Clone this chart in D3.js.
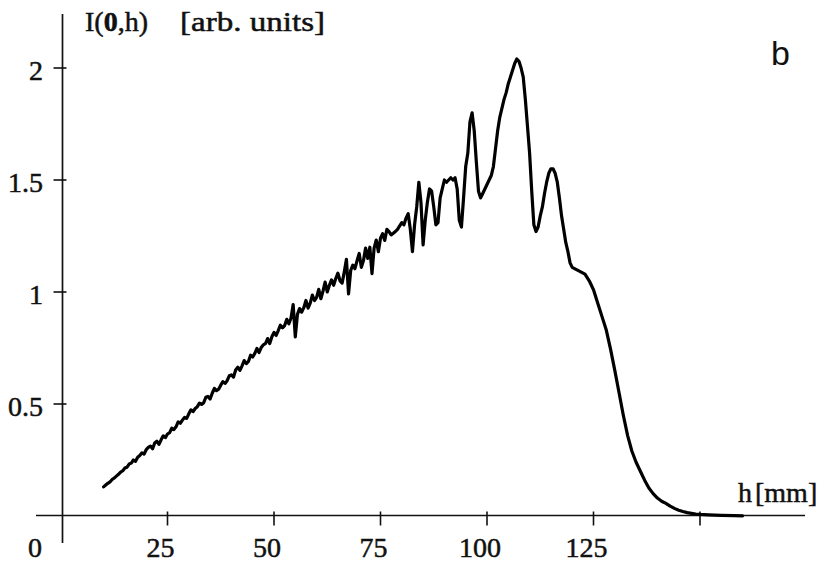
<!DOCTYPE html>
<html>
<head>
<meta charset="utf-8">
<script src="https://cdn.jsdelivr.net/npm/d3@7/dist/d3.min.js"></script>
<style>
  body { margin: 0; background: #fff; }
  svg { display: block; }
</style>
</head>
<body>
<script>
// h in mm
const heights = [
  10,10.5,11,11.5,12,12.5,13,13.5,14,14.5,
  15,15.5,16,16.5,17,17.5,18,18.5,19,19.5,
  20,20.5,21,21.5,22,22.5,23,23.5,24,24.5,
  25,25.5,26,26.5,27,27.5,28,28.5,29,29.5,
  30,30.5,31,31.5,32,32.5,33,33.5,34,34.5,
  35,35.5,36,36.5,37,37.5,38,38.5,39,39.5,
  40,40.5,41,41.5,42,42.5,43,43.5,44,44.5,
  45,45.5,46,46.5,47,47.5,48,48.5,49,49.5,
  50,50.5,51,51.5,52,52.5,53,53.5,54,54.5,
  55,55.5,56,56.5,57,57.5,58,58.5,59,59.5,
  60,60.5,61,61.5,62,62.5,63,63.5,64,64.5,
  65,65.5,66,66.5,67,67.5,68,68.5,69,69.5,
  70,70.5,71,71.5,72,72.5,73,73.5,74,74.5,
  75,75.5,76,76.5,77,77.5,78,78.5,79,79.5,
  80,80.5,81,81.5,82,82.5,83,83.5,84,84.5,
  85,85.5,86,86.5,87,87.5,88,88.5,89,89.5,
  90,90.5,91,91.5,92,92.5,93,93.5,94,94.5,
  95,95.5,96,96.5,97,97.5,98,98.5,99,99.5,
  100,100.5,101,101.5,102,102.5,103,103.5,104,104.5,
  105,105.5,106,106.5,107,107.5,108,108.5,109,109.5,
  110,110.5,111,111.5,112,112.5,113,113.5,114,114.5,
  115,115.5,116,116.5,117,117.5,118,118.5,119,119.5,
  120,
  121,122,123,124,125,126,127,128,129,130,
  131,132,133,134,135,136,137,138,139,140,
  141,142,143,144,145,146,147,148,149,150,
  152,155,158,160
];

// I(0,h) in arb. units
const intensity = [
  .130,.138,.146,.152,.163,.170,.178,.186,.196,.202,
  .214,.218,.232,.236,.250,.244,.262,.270,.282,.276,
  .296,.306,.312,.300,.326,.334,.320,.340,.358,.350,
  .366,.372,.392,.386,.398,.420,.414,.428,.440,.436,
  .456,.474,.466,.480,.488,.504,.498,.506,.530,.534,
  .522,.548,.570,.560,.566,.584,.600,.592,.604,.626,
  .630,.620,.652,.664,.650,.670,.694,.680,.690,.718,
  .710,.726,.748,.730,.752,.764,.770,.792,.770,.800,
  .820,.806,.828,.852,.840,.850,.878,.858,.884,.944,
  .800,.900,.926,.910,.930,.962,.928,.950,.986,.962,
  .976,1.012,.970,1.004,1.044,1.000,1.030,1.054,1.030,1.060,
  1.084,1.050,1.040,1.090,1.146,.992,1.096,1.120,1.104,1.140,
  1.172,1.110,1.140,1.196,1.150,1.200,1.082,1.196,1.232,1.180,
  1.240,1.260,1.230,1.280,1.270,1.255,1.262,1.270,1.280,1.295,
  1.310,1.300,1.330,1.350,1.280,1.180,1.300,1.380,1.490,1.400,
  1.210,1.320,1.400,1.460,1.450,1.380,1.300,1.310,1.420,1.460,
  1.500,1.490,1.500,1.510,1.500,1.510,1.460,1.320,1.290,1.420,
  1.560,1.620,1.760,1.800,1.720,1.580,1.450,1.420,1.440,1.460,
  1.480,1.500,1.520,1.560,1.640,1.720,1.780,1.820,1.860,1.890,
  1.930,1.960,1.990,2.020,2.040,2.030,2.000,1.960,1.860,1.740,
  1.620,1.450,1.300,1.270,1.290,1.340,1.380,1.440,1.490,1.530,
  1.550,1.550,1.530,1.490,1.420,1.340,1.280,1.220,1.180,1.130,
  1.110,
  1.100,1.090,1.080,1.050,1.010,0.950,0.890,0.830,0.745,0.650,
  0.550,0.450,0.360,0.290,0.240,0.200,0.160,0.125,0.100,0.080,
  0.066,0.056,0.044,0.034,0.026,0.020,0.015,0.012,0.009,0.007,
  0.005,0.003,0.002,0.001
];

const xTicks = [25, 50, 75, 100, 125, 150];
const xTickLabels = ["25", "50", "75", "100", "125", ""];
const yTicks = [0.5, 1, 1.5, 2];
const yTickLabels = ["0.5", "1", "1.5", "2"];

const width = 830, height = 567;
const serif = "'Liberation Serif', 'Times New Roman', serif";
const ink = "#111";

const x = d3.scaleLinear().domain([0, 150]).range([61, 700]);
const y = d3.scaleLinear().domain([0, 2]).range([516, 68]);

const axisX = 62.5;   // where the vertical axis is drawn
const axisY = 515.5;  // where the horizontal axis is drawn

const svg = d3.select("body").append("svg")
    .attr("width", width)
    .attr("height", height)
    .style("background", "#fff");

// little helper so all the scanned-looking text gets the same heavy ink
function label(sel) {
    return sel.attr("font-family", serif)
        .attr("font-size", 28)
        .attr("fill", ink)
        .attr("stroke", ink)
        .attr("stroke-width", 0.5);
}

// axes lines
svg.append("line")
    .attr("x1", axisX).attr("x2", axisX)
    .attr("y1", 14).attr("y2", 543)
    .attr("stroke", ink).attr("stroke-width", 1.7);

svg.append("line")
    .attr("x1", 36).attr("x2", 805)
    .attr("y1", axisY).attr("y2", axisY)
    .attr("stroke", ink).attr("stroke-width", 1.7);

// x ticks + labels
svg.append("g").selectAll("line")
    .data(xTicks)
    .join("line")
    .attr("x1", d => x(d)).attr("x2", d => x(d))
    .attr("y1", axisY - 4).attr("y2", axisY + 10)
    .attr("stroke", ink).attr("stroke-width", 1.6);

label(svg.append("g").selectAll("text")
    .data(xTicks)
    .join("text"))
    .attr("x", d => x(d) - 7)
    .attr("y", 557)
    .attr("text-anchor", "middle")
    .text((d, i) => xTickLabels[i]);

// origin label
label(svg.append("text"))
    .attr("x", x(0) - 26)
    .attr("y", 557)
    .attr("text-anchor", "middle")
    .text("0");

// y ticks + labels
svg.append("g").selectAll("line")
    .data(yTicks)
    .join("line")
    .attr("x1", axisX - 9).attr("x2", axisX + 4)
    .attr("y1", d => y(d)).attr("y2", d => y(d))
    .attr("stroke", ink).attr("stroke-width", 1.6);

label(svg.append("g").selectAll("text")
    .data(yTicks)
    .join("text"))
    .attr("x", 43)
    .attr("y", d => y(d) + 12)
    .attr("text-anchor", "end")
    .text((d, i) => yTickLabels[i]);

// y axis title
const title = label(svg.append("text"))
    .attr("x", 85)
    .attr("y", 31);
title.append("tspan").text("I(");
title.append("tspan").attr("font-weight", "bold").text("0");
title.append("tspan").text(",h)");

label(svg.append("text"))
    .attr("x", 180)
    .attr("y", 31)
    .attr("textLength", 145)
    .attr("lengthAdjust", "spacingAndGlyphs")
    .text("[arb. units]");

// x axis title
const xt = label(svg.append("text"))
    .attr("x", 738)
    .attr("y", 502);
xt.append("tspan").text("h");
xt.append("tspan").attr("dx", 3).text("[mm]");

// panel letter
svg.append("text")
    .attr("x", 771)
    .attr("y", 65)
    .attr("font-family", "'Liberation Sans', Arial, sans-serif")
    .attr("font-size", 34)
    .attr("fill", ink)
    .text("b");

// the curve
const line = d3.line()
    .x((d, i) => x(heights[i]))
    .y(d => y(d));

svg.append("path")
    .datum(intensity)
    .attr("fill", "none")
    .attr("stroke", "#000")
    .attr("stroke-width", 3.2)
    .attr("stroke-linejoin", "round")
    .attr("stroke-linecap", "round")
    .attr("d", line);
</script>
</body>
</html>
